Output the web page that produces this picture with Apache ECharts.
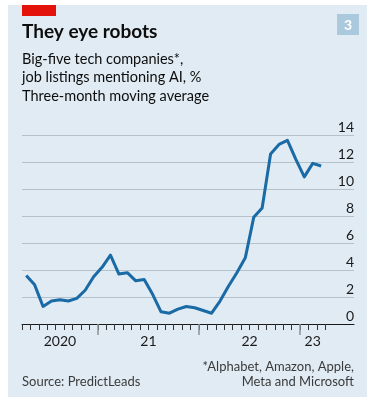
<!DOCTYPE html>
<html>
<head>
<meta charset="utf-8">
<script src="https://cdn.jsdelivr.net/npm/echarts@6/dist/echarts.min.js"></script>
<style>
  html, body { margin: 0; padding: 0; background: #fff; }
  #chart { width: 375px; height: 403px; }
</style>
</head>
<body>
<div id="chart"></div>
<script>
// months shown, Apr 2020 to Mar 2023
const months = [
  '2020-04', '2020-05', '2020-06', '2020-07', '2020-08', '2020-09', '2020-10', '2020-11', '2020-12',
  '2021-01', '2021-02', '2021-03', '2021-04', '2021-05', '2021-06', '2021-07', '2021-08', '2021-09',
  '2021-10', '2021-11', '2021-12',
  '2022-01', '2022-02', '2022-03', '2022-04', '2022-05', '2022-06', '2022-07', '2022-08', '2022-09',
  '2022-10', '2022-11', '2022-12',
  '2023-01', '2023-02', '2023-03'
]
// share of job listings mentioning AI, %, three-month moving average
const aiShare = [
  3.6, 2.9, 1.3, 1.7, 1.8, 1.7, 1.9, 2.5, 3.5,
  4.2, 5.1, 3.7, 3.8, 3.2, 3.3, 2.2, 0.9, 0.8, 1.1, 1.3, 1.2,
  1.0, 0.8, 1.7, 2.8, 3.8, 4.9, 7.9, 8.6, 12.6, 13.3, 13.6, 12.2,
  10.9, 11.9, 11.7
]
const years = ['2020', '2021', '2022', '2023']
const yearLabels = ['2020', '21', '22', '23']
const yTicks = [0, 2, 4, 6, 8, 10, 12, 14]

const textFont = 'Lato'

// month boundaries (ticks) and year boundaries / year label centres
const monthTicks = months.map((m, i) => i).concat([months.length])
const yearStarts = []
const yearMids = []
years.forEach(y => {
  const idx = months.map((m, i) => m.startsWith(y) ? i : -1).filter(i => i >= 0)
  if (idx[0] > 0) yearStarts.push(idx[0])
  yearMids.push((idx[0] + idx[idx.length - 1] + 1) / 2)
})

const chart = echarts.init(document.getElementById('chart'))

const option = {
  backgroundColor: '#ffffff',
  animation: false,
  graphic: [
    { type: 'rect', z: -10, shape: { x: 8, y: 5, width: 359, height: 392 }, style: { fill: '#e0ebf3' } },
    { type: 'rect', shape: { x: 22, y: 5, width: 34, height: 11 }, style: { fill: '#e3120b' } },
    { type: 'rect', shape: { x: 337, y: 14, width: 22, height: 21 }, style: { fill: '#aac9dd' } },
    { type: 'text', x: 348, y: 25, style: { text: '3', fill: '#ffffff', font: 'bold 14px ' + textFont, align: 'center', verticalAlign: 'middle' } },
    { type: 'text', x: 22, y: 32, style: { text: 'They eye robots', fill: '#0d0d0d', font: 'bold 19px ' + textFont, verticalAlign: 'middle' } },
    { type: 'text', x: 22, y: 59, style: { text: 'Big-five tech companies*,', fill: '#0d0d0d', font: '14.5px ' + textFont, verticalAlign: 'middle' } },
    { type: 'text', x: 22, y: 77.5, style: { text: 'job listings mentioning AI, %', fill: '#0d0d0d', font: '14.5px ' + textFont, verticalAlign: 'middle' } },
    { type: 'text', x: 22, y: 96, style: { text: 'Three-month moving average', fill: '#0d0d0d', font: '14.5px ' + textFont, verticalAlign: 'middle' } },
    { type: 'text', x: 354, y: 367, style: { text: '*Alphabet, Amazon, Apple,', fill: '#3b3b3b', font: '13px ' + textFont, align: 'right', verticalAlign: 'middle' } },
    { type: 'text', x: 354, y: 382, style: { text: 'Meta and Microsoft', fill: '#3b3b3b', font: '13px ' + textFont, align: 'right', verticalAlign: 'middle' } },
    { type: 'text', x: 22, y: 382, style: { text: 'Source: PredictLeads', fill: '#3b3b3b', font: '13px ' + textFont, verticalAlign: 'middle' } }
  ],
  grid: { left: 22, right: 21, top: 135, bottom: 79, containLabel: false },
  xAxis: [
    {
      type: 'value', min: 0, max: 39.4, position: 'bottom',
      axisLine: { show: true, lineStyle: { color: '#1a1a1a', width: 1 } },
      axisTick: { show: true, customValues: monthTicks, length: 6, lineStyle: { color: '#333', width: 1 } },
      axisLabel: { show: false },
      splitLine: { show: false }
    },
    {
      type: 'value', min: 0, max: 39.4, position: 'bottom',
      axisLine: { show: false },
      axisTick: { show: true, customValues: yearStarts, length: 11, lineStyle: { color: '#8c9297', width: 1.5 } },
      axisLabel: {
        show: true, customValues: yearMids, margin: 10,
        fontFamily: textFont, fontSize: 14, color: '#1a1a1a',
        formatter: v => yearLabels[yearMids.indexOf(v)] || ''
      },
      splitLine: { show: false }
    }
  ],
  yAxis: {
    type: 'value', min: 0, max: 14, interval: 2, position: 'right',
    axisLine: { show: false },
    axisTick: { show: false },
    axisLabel: {
      inside: true, margin: 0, fontFamily: textFont, fontSize: 14, color: '#1a1a1a',
      verticalAlign: 'bottom', lineHeight: 15,
      formatter: v => yTicks.includes(v) ? String(v) : ''
    },
    splitLine: { show: true, lineStyle: { color: '#b5c2cc', width: 1 } }
  },
  series: [
    {
      type: 'line',
      xAxisIndex: 0,
      data: aiShare.map((v, i) => [i + 0.5, v]),
      symbol: 'none',
      lineStyle: { color: '#1a6aa6', width: 3, join: 'round' },
      z: 5
    }
  ]
}

chart.setOption(option)
</script>
</body>
</html>
